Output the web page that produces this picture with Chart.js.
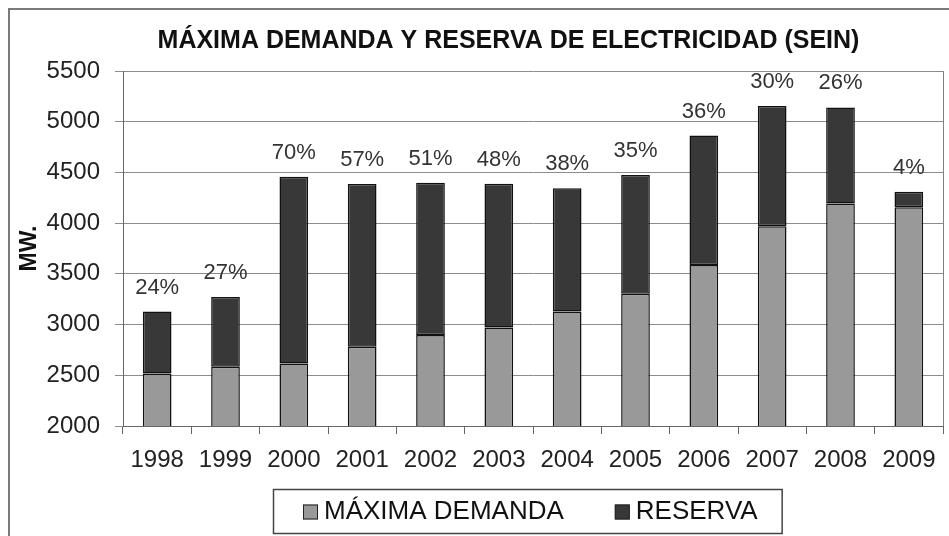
<!DOCTYPE html>
<html>
<head>
<meta charset="utf-8">
<script src="https://cdn.jsdelivr.net/npm/chart.js@4/dist/chart.umd.min.js"></script>
<style>
body{margin:0;background:#fff}
</style>
</head>
<body>
<canvas id="chart" width="949" height="536"></canvas>
<script>

let years=["1998","1999","2000","2001","2002","2003","2004","2005","2006","2007","2008","2009"]
let demanda=[2518,2584,2617,2782,2897,2970,3128,3303,3587,3969,4194,4157]
let reserva=[610,689,1841,1603,1501,1419,1217,1171,1277,1185,947,153]
let porcentaje=["24%","27%","70%","57%","51%","48%","38%","35%","36%","30%","26%","4%"]

let font="'Liberation Sans', Arial, sans-serif"

// frame, plot border, % labels and the boxed legend
let extras={
id:"extras",
afterLayout(chart){
// the title sits a bit right of the canvas centre in the original
chart.titleBlock.left+=62
},
beforeDraw(chart){
let c=chart.ctx
c.save()
c.fillStyle="#fff"
c.fillRect(0,0,chart.width,chart.height)
c.strokeStyle="#7a7a7a"
c.lineWidth=2
c.strokeRect(9,9,chart.width+20,chart.height+20)
c.restore()
},
afterDatasetsDraw(chart){
let c=chart.ctx
let a=chart.chartArea
c.save()
c.strokeStyle="#808080"
c.lineWidth=1
c.beginPath()
c.moveTo(a.right+0.5,a.top)
c.lineTo(a.right+0.5,a.bottom)
c.stroke()

let meta=chart.getDatasetMeta(1)
c.fillStyle="#333"
c.font="22px "+font
c.textAlign="center"
c.textBaseline="middle"
meta.data.forEach((bar,i)=>{
c.fillText(porcentaje[i],bar.x,bar.y-24)
})
c.restore()
},
afterDraw(chart){
let c=chart.ctx
let a=chart.chartArea
c.save()
c.font="26px "+font
let items=chart.data.datasets.map(d=>({label:d.label,color:d.backgroundColor,w:c.measureText(d.label).width}))
let sq=15,gap=6,between=51,padL=30,padR=24
let inner=items.reduce((s,it)=>s+sq+gap+it.w,0)+between*(items.length-1)
let boxW=inner+padL+padR
let boxH=44
let cx=(a.left+a.right)/2
let x0=Math.round(cx-boxW/2)-6
let y0=a.bottom+63
c.strokeStyle="#444"
c.lineWidth=1.5
c.strokeRect(x0+0.5,y0+0.5,boxW,boxH)
let x=x0+padL
let ym=y0+boxH/2+1
c.textBaseline="middle"
c.textAlign="left"
items.forEach(it=>{
c.fillStyle=it.color
c.fillRect(x,ym-sq/2,sq,sq)
c.strokeStyle="#222"
c.lineWidth=1
c.strokeRect(x+0.5,ym-sq/2+0.5,sq-1,sq-1)
c.fillStyle="#111"
c.fillText(it.label,x+sq+gap,ym)
x+=sq+gap+it.w+between
})
c.restore()
}
}

let ctx=document.getElementById("chart").getContext("2d")

let chart=new Chart(ctx,{
type:"bar",
data:{
labels:years,
datasets:[{
label:"MÁXIMA DEMANDA",
data:demanda,
backgroundColor:"#999999",
borderColor:"#111",
borderWidth:1.5,
borderSkipped:false,
barPercentage:0.42,
categoryPercentage:1
},{
label:"RESERVA",
data:reserva,
backgroundColor:"#383838",
borderColor:"#111",
borderWidth:1.5,
borderSkipped:false,
barPercentage:0.42,
categoryPercentage:1
}]
},
options:{
responsive:false,
animation:false,
layout:{padding:{left:12,right:6,top:12,bottom:0}},
plugins:{
legend:{display:false},
tooltip:{enabled:false},
title:{
display:true,
text:"MÁXIMA DEMANDA Y RESERVA DE ELECTRICIDAD (SEIN)",
color:"#111",
font:{family:font,size:25,weight:"bold"},
padding:{top:14,bottom:15}
}
},
scales:{
x:{
stacked:true,
afterFit(s){s.height=110},
grid:{drawOnChartArea:false,drawTicks:true,tickLength:8,color:"#666"},
border:{color:"#666",width:1},
ticks:{color:"#222",font:{family:font,size:24},padding:12,maxRotation:0}
},
y:{
stacked:true,
min:2000,
max:5500,
afterFit(s){s.width=111},
grid:{color:"#8c8c8c",tickLength:8,lineWidth:1},
border:{color:"#666",width:1},
ticks:{stepSize:500,color:"#222",font:{family:font,size:24},padding:15,callback:v=>String(v)},
title:{display:true,text:"MW.",color:"#111",font:{family:font,size:23,weight:"bold"},padding:4}
}
}
},
plugins:[extras]
})

</script>
</body>
</html>
